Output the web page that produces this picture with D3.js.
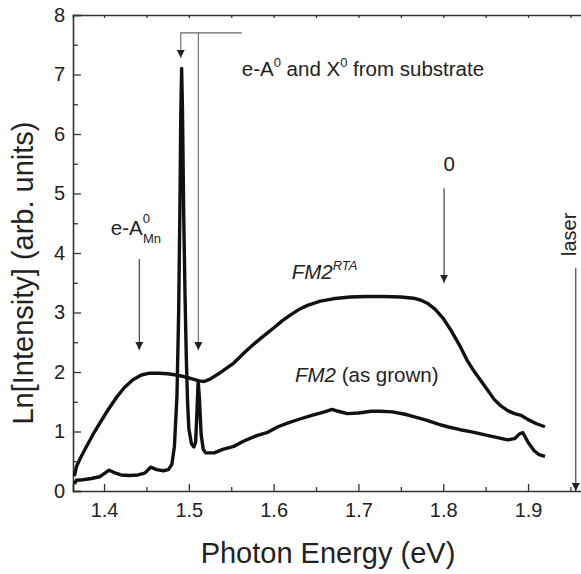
<!DOCTYPE html>
<html>
<head>
<meta charset="utf-8">
<script src="https://cdn.jsdelivr.net/npm/d3@7"></script>
<style>
  body { margin: 0; background: #fff; }
  svg { display: block; font-family: "Liberation Sans", Arial, sans-serif; }
</style>
</head>
<body>
<svg width="581" height="574"></svg>
<script>
// FM2 annealed (RTA) spectrum
const rtaEnergy = [1.365, 1.3675, 1.372, 1.379, 1.387, 1.395, 1.405, 1.414, 1.424, 1.434, 1.444, 1.454, 1.465, 1.475, 1.485, 1.495, 1.505, 1.512, 1.518, 1.525, 1.535, 1.545, 1.553, 1.565, 1.575, 1.585, 1.592, 1.600, 1.610, 1.620, 1.631, 1.640, 1.655, 1.670, 1.690, 1.710, 1.730, 1.750, 1.765, 1.773, 1.782, 1.790, 1.800, 1.810, 1.820, 1.828, 1.836, 1.844, 1.852, 1.860, 1.868, 1.876, 1.884, 1.892, 1.900, 1.910, 1.920];
const rtaValue  = [0.25, 0.41, 0.55, 0.74, 0.95, 1.14, 1.37, 1.56, 1.74, 1.87, 1.95, 1.98, 1.98, 1.97, 1.95, 1.92, 1.88, 1.85, 1.84, 1.88, 1.97, 2.07, 2.15, 2.32, 2.45, 2.57, 2.65, 2.74, 2.86, 2.96, 3.06, 3.12, 3.19, 3.23, 3.26, 3.27, 3.27, 3.26, 3.24, 3.21, 3.15, 3.06, 2.90, 2.68, 2.43, 2.20, 2.02, 1.86, 1.70, 1.54, 1.43, 1.35, 1.30, 1.27, 1.20, 1.13, 1.08];

// FM2 as-grown spectrum
const grownEnergy = [1.365, 1.3675, 1.375, 1.385, 1.395, 1.401, 1.406, 1.412, 1.420, 1.430, 1.440, 1.448, 1.455, 1.462, 1.470, 1.476, 1.480, 1.483, 1.486, 1.488, 1.4895, 1.4905, 1.4915, 1.4925, 1.494, 1.4955, 1.497, 1.4985, 1.500, 1.503, 1.506, 1.508, 1.5095, 1.511, 1.5125, 1.5145, 1.517, 1.520, 1.530, 1.540, 1.553, 1.565, 1.580, 1.592, 1.605, 1.618, 1.631, 1.645, 1.660, 1.669, 1.676, 1.687, 1.700, 1.715, 1.726, 1.740, 1.755, 1.765, 1.780, 1.795, 1.805, 1.820, 1.835, 1.844, 1.860, 1.876, 1.884, 1.890, 1.894, 1.900, 1.907, 1.913, 1.920];
const grownValue  = [0.12, 0.18, 0.19, 0.21, 0.24, 0.30, 0.35, 0.31, 0.27, 0.26, 0.27, 0.30, 0.40, 0.36, 0.34, 0.36, 0.45, 0.75, 1.60, 3.00, 4.80, 6.30, 7.10, 6.40, 4.60, 3.30, 2.25, 1.50, 1.05, 0.80, 0.74, 0.82, 1.30, 1.85, 1.55, 0.95, 0.70, 0.64, 0.64, 0.70, 0.75, 0.84, 0.93, 0.98, 1.08, 1.15, 1.21, 1.27, 1.33, 1.37, 1.34, 1.30, 1.31, 1.34, 1.34, 1.33, 1.29, 1.25, 1.19, 1.12, 1.08, 1.03, 0.99, 0.96, 0.91, 0.86, 0.88, 0.96, 0.98, 0.82, 0.68, 0.61, 0.58];

const xMajorTicks = [1.4, 1.5, 1.6, 1.7, 1.8, 1.9];
const xMinorTicks = [1.45, 1.55, 1.65, 1.75, 1.85, 1.95];
const xTopTicks = [1.4, 1.45, 1.5, 1.55, 1.6, 1.65, 1.7, 1.75, 1.8, 1.85, 1.9, 1.95];
const yMajorTicks = [0, 1, 2, 3, 4, 5, 6, 7, 8];
const yMinorTicks = [0.5, 1.5, 2.5, 3.5, 4.5, 5.5, 6.5, 7.5];

// annotation arrows: [energy, from value, to value]
const arrowMn = [1.4416, 3.9, 2.37];
const arrowSubA = [1.4905, 7.70, 7.28];
const arrowSubX = [1.5112, 7.70, 2.37];
const bracketEnd = 1.5624;
const arrowZero = [1.801, 5.09, 3.50];
const arrowLaser = [1.9563, 3.75, 0.0];

const svg = d3.select("svg");
const x = d3.scaleLinear().domain([1.3634, 1.97]).range([73, 587.4]);
const y = d3.scaleLinear().domain([0, 8]).range([491, 15]);

const axisColor = "#333";
const textColor = "#222";

// top axis line with small ticks
svg.append("g").attr("transform", `translate(0,${y(8)})`)
    .call(d3.axisTop(x).tickValues(xTopTicks).tickSize(-3).tickFormat(""));

// bottom axis
svg.append("g").attr("transform", `translate(0,${y(0)})`)
    .call(d3.axisBottom(x).tickValues(xMajorTicks).tickSize(-7).tickPadding(12).tickFormat(d3.format(".1f")));
svg.append("g").attr("transform", `translate(0,${y(0)})`)
    .call(d3.axisBottom(x).tickValues(xMinorTicks).tickSize(-4).tickFormat(""))
    .select(".domain").remove();

// left axis
svg.append("g").attr("transform", `translate(${x.range()[0]},0)`)
    .call(d3.axisLeft(y).tickValues(yMajorTicks).tickSize(-8).tickPadding(8).tickFormat(d3.format("d")));
svg.append("g").attr("transform", `translate(${x.range()[0]},0)`)
    .call(d3.axisLeft(y).tickValues(yMinorTicks).tickSize(-5).tickFormat(""))
    .select(".domain").remove();

svg.selectAll(".domain").attr("stroke", axisColor).attr("stroke-width", 1.6);
svg.selectAll(".tick line").attr("stroke", axisColor).attr("stroke-width", 1.3);
svg.selectAll(".tick text").attr("fill", textColor).attr("font-size", 20)
    .attr("font-family", "'Liberation Sans', Arial, sans-serif");

// spectra
const line = d3.line().x(d => x(d[0])).y(d => y(d[1]));
svg.append("path")
    .datum(rtaEnergy.map((e, i) => [e, rtaValue[i]]))
    .attr("d", line).attr("fill", "none").attr("stroke", "#111")
    .attr("stroke-width", 3.4).attr("stroke-linejoin", "round");
svg.append("path")
    .datum(grownEnergy.map((e, i) => [e, grownValue[i]]))
    .attr("d", line).attr("fill", "none").attr("stroke", "#111")
    .attr("stroke-width", 3.4).attr("stroke-linejoin", "round");

// arrowhead marker
svg.append("defs").append("marker")
    .attr("id", "head").attr("viewBox", "0 0 10 10")
    .attr("refX", 10).attr("refY", 5)
    .attr("markerWidth", 8).attr("markerHeight", 8)
    .attr("markerUnits", "userSpaceOnUse")
    .attr("orient", "auto")
    .append("path").attr("d", "M0,0 L10,5 L0,10 z").attr("fill", "#222");

function arrow(a, color) {
    svg.append("line")
        .attr("x1", x(a[0])).attr("x2", x(a[0]))
        .attr("y1", y(a[1])).attr("y2", y(a[2]))
        .attr("stroke", color).attr("stroke-width", 1.1)
        .attr("marker-end", "url(#head)");
}
arrow(arrowMn, "#333");
arrow(arrowSubA, "#666");
arrow(arrowSubX, "#666");
arrow(arrowZero, "#333");
arrow(arrowLaser, "#333");
svg.append("line")
    .attr("x1", x(arrowSubA[0])).attr("x2", x(bracketEnd))
    .attr("y1", y(arrowSubA[1])).attr("y2", y(arrowSubA[1]))
    .attr("stroke", "#666").attr("stroke-width", 1.1);

// labels
function label(px, py, size) {
    return svg.append("text").attr("x", px).attr("y", py)
        .attr("font-size", size).attr("fill", textColor);
}
let t = label(x(1.5624), y(6.98), 20.5);
t.append("tspan").text("e-A");
t.append("tspan").attr("dy", -9).attr("font-size", 13).text("0");
t.append("tspan").attr("dy", 9).text(" and X");
t.append("tspan").attr("dy", -9).attr("font-size", 13).text("0");
t.append("tspan").attr("dy", 9).text(" from substrate");

t = label(x(1.4079), y(4.30), 20.5);
t.append("tspan").text("e-A");
t.append("tspan").attr("dy", -12).attr("font-size", 13).text("0");
t.append("tspan").attr("dx", -7).attr("dy", 20).attr("font-size", 13).text("Mn");

label(x(1.807), y(5.37), 20.5).attr("text-anchor", "middle").text("0");

t = label(x(1.6213), y(3.56), 20.5).attr("font-style", "italic");
t.append("tspan").text("FM2");
t.append("tspan").attr("dy", -9).attr("font-size", 13).text("RTA");

t = label(x(1.6252), y(1.83), 20.5);
t.append("tspan").attr("font-style", "italic").text("FM2");
t.append("tspan").text(" (as grown)");

svg.append("text")
    .attr("transform", `translate(576,${y(3.95)}) rotate(-90)`)
    .attr("font-size", 20).attr("fill", textColor).text("laser");

// axis titles
svg.append("text")
    .attr("transform", `translate(33,${(y(0) + y(8)) / 2 + 20}) rotate(-90)`)
    .attr("text-anchor", "middle").attr("font-size", 29).attr("fill", textColor)
    .text("Ln[Intensity] (arb. units)");
svg.append("text")
    .attr("x", 328).attr("y", 563)
    .attr("text-anchor", "middle").attr("font-size", 29).attr("fill", textColor)
    .text("Photon Energy (eV)");
</script>
</body>
</html>
